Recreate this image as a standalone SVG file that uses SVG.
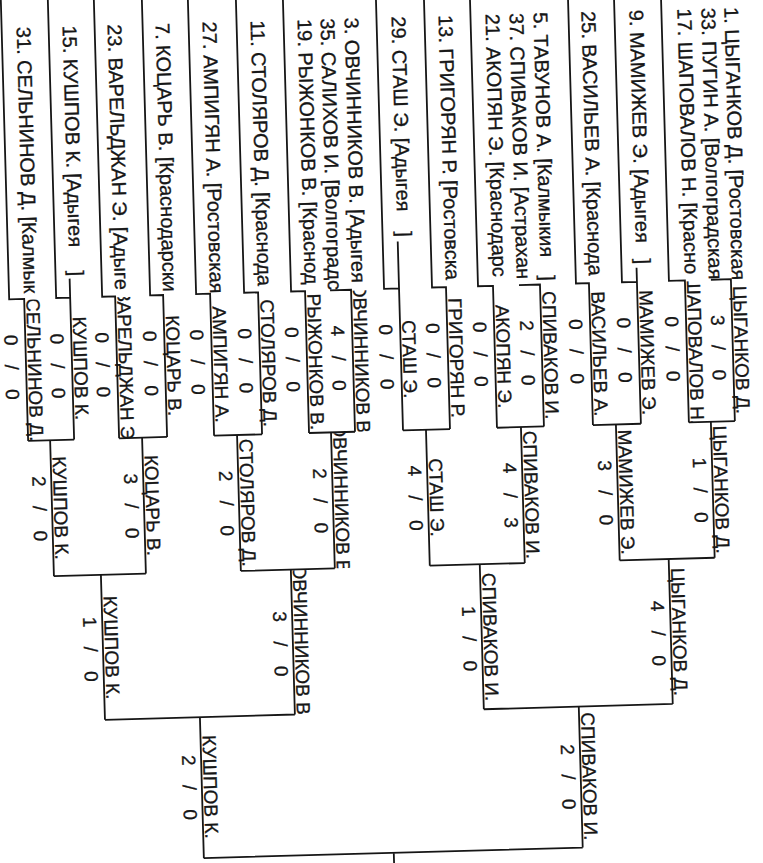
<svg xmlns="http://www.w3.org/2000/svg" width="763" height="863" viewBox="0 0 763 863">
<style>
.t{font-family:"Liberation Sans",Arial,sans-serif;font-size:19px;fill:#161616;stroke:#161616;stroke-width:0.3}
.e{font-size:20px}
.m{text-anchor:middle}
.s{word-spacing:14px}
.ln{fill:none;stroke:#161616;stroke-width:1.8}
</style>
<defs>
<clipPath id="ce"><rect x="-60" y="-80" width="900" height="369"/></clipPath>
<clipPath id="c1"><rect x="-60" y="290" width="900" height="141"/></clipPath>
<clipPath id="c2"><rect x="-60" y="432" width="900" height="135"/></clipPath>
<clipPath id="c3"><rect x="-60" y="568" width="900" height="144"/></clipPath>
<clipPath id="c4"><rect x="-60" y="713" width="900" height="140"/></clipPath>
</defs>
<rect width="763" height="863" fill="#fff"/>
<g transform="rotate(-1.6 381 431)">
<g id="connectors" class="ln">
<path d="M13 -40V289H28V431M60 -40V289H74M74 270V431M106 -40V289H119V431M154 -40V289H167V431M200 -40V289H214V431M248 -40V289H262V431M295 -40V289H309V431M334 289H355V431M388 -40V289H403M403 242V431M436 -40V289H450V431M482 -40V289H497V431M523 289H544V431M580 -40V289H593V431M626 -40V289H641M641 275V431M673 -40V289H689V431M715 289H735V431"/>
<path d="M28 431H74M119 431H167M214 431H262M309 431H355M403 431H450M497 431H544M593 431H641M689 431H735"/>
<path d="M50 431V567M142 431V567M237 431V567M331 431V567M426 431V567M521 431V567M616 431V567M711 431V567"/>
<path d="M50 567H142M237 567H331M426 567H521M616 567H711"/>
<path d="M97 567V712M287 567V712M476 567V712M665 567V712M97 712H287M476 712H665"/>
<path d="M192 712V853M571 712V853M192 853H571M382 853V900"/>
</g>
<g clip-path="url(#ce)">
<g id="p31"><text class="t e" transform="translate(28 0) rotate(90)" x="17">31. СЕЛЬНИНОВ Д. [Калмык</text></g>
<g id="p15"><text class="t e" transform="translate(74 0) rotate(90)" x="17">15. КУШПОВ К. [Адыгея<tspan x="262">]</tspan></text></g>
<g id="p23"><text class="t e" transform="translate(119 0) rotate(90)" x="17">23. ВАРЕЛЬДЖАН Э. [Адыге</text></g>
<g id="p7"><text class="t e" transform="translate(167 0) rotate(90)" x="17">7. КОЦАРЬ В. [Краснодарски</text></g>
<g id="p27"><text class="t e" transform="translate(214 0) rotate(90)" x="17">27. АМПИГЯН А. [Ростовская</text></g>
<g id="p11"><text class="t e" transform="translate(262 0) rotate(90)" x="17">11. СТОЛЯРОВ Д. [Краснода</text></g>
<g id="p19"><text class="t e" transform="translate(309 0) rotate(90)" x="17">19. РЫЖОНКОВ В. [Краснод</text></g>
<g id="p35"><text class="t e" transform="translate(332 0) rotate(90)" x="17">35. САЛИХОВ И. [Волгоградс</text></g>
<g id="p3"><text class="t e" transform="translate(356 0) rotate(90)" x="17">3. ОВЧИННИКОВ В. [Адыгея</text></g>
<g id="p29"><text class="t e" transform="translate(403 0) rotate(90)" x="17">29. СТАШ Э. [Адыгея<tspan x="232">]</tspan></text></g>
<g id="p13"><text class="t e" transform="translate(450 0) rotate(90)" x="17">13. ГРИГОРЯН Р. [Ростовска</text></g>
<g id="p21"><text class="t e" transform="translate(497 0) rotate(90)" x="17">21. АКОПЯН Э. [Краснодарс</text></g>
<g id="p37"><text class="t e" transform="translate(521 0) rotate(90)" x="17">37. СПИВАКОВ И. [Астрахан</text></g>
<g id="p5"><text class="t e" transform="translate(545 0) rotate(90)" x="17">5. ТАВУНОВ А. [Калмыкия<tspan x="280">]</tspan></text></g>
<g id="p25"><text class="t e" transform="translate(593 0) rotate(90)" x="17">25. ВАСИЛЬЕВ А. [Краснода</text></g>
<g id="p9"><text class="t e" transform="translate(641 0) rotate(90)" x="17">9. МАМИЖЕВ Э. [Адыгея<tspan x="266">]</tspan></text></g>
<g id="p17"><text class="t e" transform="translate(689 0) rotate(90)" x="17">17. ШАПОВАЛОВ Н. [Красно</text></g>
<g id="p33"><text class="t e" transform="translate(713 0) rotate(90)" x="17">33. ПУГИН А. [Волгоградская</text></g>
<g id="p1"><text class="t e" transform="translate(736 0) rotate(90)" x="17">1. ЦЫГАНКОВ Д. [Ростовская</text></g>
</g>
<g clip-path="url(#c1)">
<g id="r1-01"><text class="t m" transform="translate(30 0) rotate(90)" x="360">СЕЛЬНИНОВ Д.</text><text class="t m s" transform="translate(7 0) rotate(90)" x="357">0 / 0</text></g>
<g id="r1-02"><text class="t m" transform="translate(76 0) rotate(90)" x="360">КУШПОВ К.</text><text class="t m s" transform="translate(53 0) rotate(90)" x="357">0 / 0</text></g>
<g id="r1-03"><text class="t m" transform="translate(121 0) rotate(90)" x="360">ВАРЕЛЬДЖАН Э.</text><text class="t m s" transform="translate(98 0) rotate(90)" x="357">0 / 0</text></g>
<g id="r1-04"><text class="t m" transform="translate(169 0) rotate(90)" x="360">КОЦАРЬ В.</text><text class="t m s" transform="translate(146 0) rotate(90)" x="357">0 / 0</text></g>
<g id="r1-05"><text class="t m" transform="translate(216 0) rotate(90)" x="360">АМПИГЯН А.</text><text class="t m s" transform="translate(193 0) rotate(90)" x="357">0 / 0</text></g>
<g id="r1-06"><text class="t m" transform="translate(264 0) rotate(90)" x="360">СТОЛЯРОВ Д.</text><text class="t m s" transform="translate(241 0) rotate(90)" x="357">0 / 0</text></g>
<g id="r1-07"><text class="t m" transform="translate(311 0) rotate(90)" x="360">РЫЖОНКОВ В.</text><text class="t m s" transform="translate(288 0) rotate(90)" x="357">0 / 0</text></g>
<g id="r1-08"><text class="t m" transform="translate(357 0) rotate(90)" x="360">ОВЧИННИКОВ В.</text><text class="t m s" transform="translate(334 0) rotate(90)" x="357">4 / 0</text></g>
<g id="r1-09"><text class="t m" transform="translate(405 0) rotate(90)" x="360">СТАШ Э.</text><text class="t m s" transform="translate(382 0) rotate(90)" x="357">0 / 0</text></g>
<g id="r1-10"><text class="t m" transform="translate(452 0) rotate(90)" x="360">ГРИГОРЯН Р.</text><text class="t m s" transform="translate(429 0) rotate(90)" x="357">0 / 0</text></g>
<g id="r1-11"><text class="t m" transform="translate(499 0) rotate(90)" x="360">АКОПЯН Э.</text><text class="t m s" transform="translate(476 0) rotate(90)" x="357">0 / 0</text></g>
<g id="r1-12"><text class="t m" transform="translate(546 0) rotate(90)" x="360">СПИВАКОВ И.</text><text class="t m s" transform="translate(523 0) rotate(90)" x="357">2 / 0</text></g>
<g id="r1-13"><text class="t m" transform="translate(595 0) rotate(90)" x="360">ВАСИЛЬЕВ А.</text><text class="t m s" transform="translate(572 0) rotate(90)" x="357">0 / 0</text></g>
<g id="r1-14"><text class="t m" transform="translate(643 0) rotate(90)" x="360">МАМИЖЕВ Э.</text><text class="t m s" transform="translate(620 0) rotate(90)" x="357">0 / 0</text></g>
<g id="r1-15"><text class="t m" transform="translate(691 0) rotate(90)" x="360">ШАПОВАЛОВ Н.</text><text class="t m s" transform="translate(668 0) rotate(90)" x="357">0 / 0</text></g>
<g id="r1-16"><text class="t m" transform="translate(737 0) rotate(90)" x="360">ЦЫГАНКОВ Д.</text><text class="t m s" transform="translate(714 0) rotate(90)" x="357">3 / 0</text></g>
</g>
<g clip-path="url(#c2)">
<g id="r2-1"><text class="t m" transform="translate(52 0) rotate(90)" x="499">КУШПОВ К.</text><text class="t m s" transform="translate(31 0) rotate(90)" x="499">2 / 0</text></g>
<g id="r2-2"><text class="t m" transform="translate(144 0) rotate(90)" x="499">КОЦАРЬ В.</text><text class="t m s" transform="translate(123 0) rotate(90)" x="499">3 / 0</text></g>
<g id="r2-3"><text class="t m" transform="translate(239 0) rotate(90)" x="499">СТОЛЯРОВ Д.</text><text class="t m s" transform="translate(218 0) rotate(90)" x="499">2 / 0</text></g>
<g id="r2-4"><text class="t m" transform="translate(333 0) rotate(90)" x="499">ОВЧИННИКОВ В.</text><text class="t m s" transform="translate(312 0) rotate(90)" x="499">2 / 0</text></g>
<g id="r2-5"><text class="t m" transform="translate(428 0) rotate(90)" x="499">СТАШ Э.</text><text class="t m s" transform="translate(407 0) rotate(90)" x="499">4 / 0</text></g>
<g id="r2-6"><text class="t m" transform="translate(523 0) rotate(90)" x="499">СПИВАКОВ И.</text><text class="t m s" transform="translate(502 0) rotate(90)" x="499">4 / 3</text></g>
<g id="r2-7"><text class="t m" transform="translate(618 0) rotate(90)" x="499">МАМИЖЕВ Э.</text><text class="t m s" transform="translate(597 0) rotate(90)" x="499">3 / 0</text></g>
<g id="r2-8"><text class="t m" transform="translate(713 0) rotate(90)" x="499">ЦЫГАНКОВ Д.</text><text class="t m s" transform="translate(692 0) rotate(90)" x="499">1 / 0</text></g>
</g>
<g clip-path="url(#c3)">
<g id="r3-1"><text class="t m" transform="translate(99 0) rotate(90)" x="640">КУШПОВ К.</text><text class="t m s" transform="translate(78 0) rotate(90)" x="641">1 / 0</text></g>
<g id="r3-2"><text class="t m" transform="translate(289 0) rotate(90)" x="640">ОВЧИННИКОВ В.</text><text class="t m s" transform="translate(268 0) rotate(90)" x="641">3 / 0</text></g>
<g id="r3-3"><text class="t m" transform="translate(478 0) rotate(90)" x="640">СПИВАКОВ И.</text><text class="t m s" transform="translate(457 0) rotate(90)" x="641">1 / 0</text></g>
<g id="r3-4"><text class="t m" transform="translate(667 0) rotate(90)" x="640">ЦЫГАНКОВ Д.</text><text class="t m s" transform="translate(646 0) rotate(90)" x="641">4 / 0</text></g>
</g>
<g clip-path="url(#c4)">
<g id="r4-1"><text class="t m" transform="translate(194 0) rotate(90)" x="782">КУШПОВ К.</text><text class="t m s" transform="translate(173 0) rotate(90)" x="782">2 / 0</text></g>
<g id="r4-2"><text class="t m" transform="translate(573 0) rotate(90)" x="782">СПИВАКОВ И.</text><text class="t m s" transform="translate(552 0) rotate(90)" x="782">2 / 0</text></g>
</g>
</g>
</svg>
